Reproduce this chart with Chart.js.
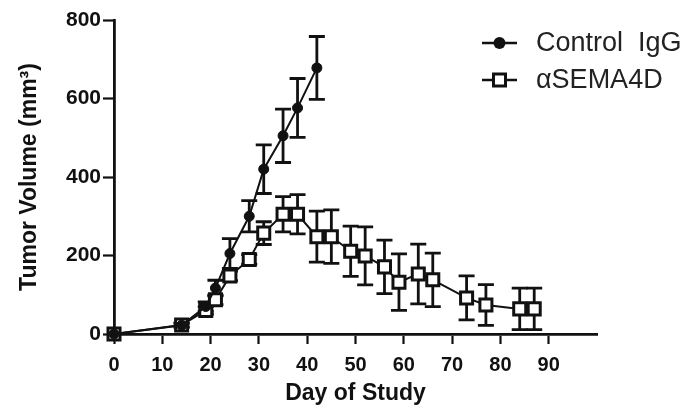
<!DOCTYPE html>
<html>
<head>
<meta charset="utf-8">
<script src="https://cdn.jsdelivr.net/npm/chart.js@4.4.1/dist/chart.umd.min.js"></script>
<style>
  html, body { margin: 0; padding: 0; background: #fff; }
  #wrap { width: 699px; height: 413px; }
</style>
</head>
<body>
<div id="wrap"><canvas id="tumorchart" width="699" height="413"></canvas></div>
<script>
// days and mean tumour volume (mm3) with error bars
const controlDays = [0, 14, 19, 21, 24, 28, 31, 35, 38, 42];
const controlVolume = [0, 22, 70, 117, 205, 300, 420, 505, 576, 678];
const controlError = [0, 5, 12, 20, 38, 40, 62, 68, 75, 80];

const semaDays = [0, 14, 19, 21, 24, 28, 31, 35, 38, 42, 45, 49, 52, 56, 59, 63, 66, 73, 77, 84, 87];
const semaVolume = [0, 23, 60, 87, 148, 190, 257, 305, 305, 248, 248, 211, 199, 171, 132, 153, 138, 92, 74, 64, 64];
const semaError = [0, 5, 10, 12, 12, 12, 29, 45, 50, 65, 68, 64, 74, 68, 72, 76, 68, 56, 52, 53, 53];

const xTicks = [0, 10, 20, 30, 40, 50, 60, 70, 80, 90];
const yTicks = [0, 200, 400, 600, 800];

const seriesNames = ['Control  IgG', '\u03B1SEMA4D'];

const FONT = '"Liberation Sans", Arial, Helvetica, sans-serif';
const INK = '#111';

function toPoints(days, vals) {
  return days.map((d, i) => ({ x: d, y: vals[i] }));
}

// vertical error bars with caps, drawn under the markers
const errorBars = {
  id: 'errorBars',
  beforeDatasetsDraw(chart) {
    const ctx = chart.ctx;
    const yScale = chart.scales.y;
    chart.data.datasets.forEach((ds, di) => {
      const meta = chart.getDatasetMeta(di);
      ctx.save();
      ctx.strokeStyle = INK;
      ctx.lineWidth = 2.8;
      meta.data.forEach((pt, i) => {
        const e = ds.errors[i];
        if (!e) return;
        const v = ds.data[i].y;
        const top = yScale.getPixelForValue(v + e);
        const bot = yScale.getPixelForValue(Math.max(v - e, 0));
        const half = ds.capHalf;
        ctx.beginPath();
        ctx.moveTo(pt.x, top);
        ctx.lineTo(pt.x, bot);
        ctx.moveTo(pt.x - half, top);
        ctx.lineTo(pt.x + half, top);
        ctx.moveTo(pt.x - half, bot);
        ctx.lineTo(pt.x + half, bot);
        ctx.stroke();
      });
      ctx.restore();
    });
  }
};

// legend placed inside the plot, top right
const floatLegend = {
  id: 'floatLegend',
  afterDraw(chart) {
    const ctx = chart.ctx;
    const rows = [43, 80];
    ctx.save();
    chart.data.datasets.forEach((ds, i) => {
      const y = rows[i];
      ctx.strokeStyle = INK;
      ctx.lineWidth = 2.6;
      ctx.beginPath();
      ctx.moveTo(482, y);
      ctx.lineTo(517, y);
      ctx.stroke();
      if (ds.pointStyle === 'rect') {
        ctx.fillStyle = '#fff';
        ctx.lineWidth = 3;
        ctx.fillRect(493.5, y - 6, 12, 12);
        ctx.strokeRect(493.5, y - 6, 12, 12);
      } else {
        ctx.fillStyle = INK;
        ctx.beginPath();
        ctx.arc(499.5, y, 6, 0, Math.PI * 2);
        ctx.fill();
      }
      ctx.fillStyle = '#222';
      ctx.font = '27px ' + FONT;
      ctx.textBaseline = 'middle';
      ctx.textAlign = 'left';
      ctx.fillText(seriesNames[i], 536, y + 1);
    });
    ctx.restore();
  }
};

new Chart(document.getElementById('tumorchart'), {
  type: 'line',
  plugins: [errorBars, floatLegend],
  data: {
    datasets: [
      {
        label: seriesNames[0],
        data: toPoints(controlDays, controlVolume),
        errors: controlError,
        capHalf: 8,
        clip: false,
        borderColor: INK,
        borderWidth: 2,
        pointStyle: 'circle',
        pointRadius: 5,
        pointBackgroundColor: INK,
        pointBorderColor: INK,
        pointBorderWidth: 1,
        tension: 0,
      },
      {
        label: seriesNames[1],
        data: toPoints(semaDays, semaVolume),
        errors: semaError,
        capHalf: 8,
        clip: false,
        borderColor: INK,
        borderWidth: 2,
        pointStyle: 'rect',
        pointRadius: 8.5,
        pointBackgroundColor: '#fff',
        pointBorderColor: INK,
        pointBorderWidth: 3,
        tension: 0,
      }
    ]
  },
  options: {
    responsive: false,
    animation: false,
    events: [],
    layout: { padding: { top: 20, right: 102, bottom: 0, left: 0 } },
    plugins: {
      legend: { display: false },
      title: { display: false },
      tooltip: { enabled: false },
    },
    scales: {
      x: {
        type: 'linear',
        min: 0,
        max: 100,
        afterBuildTicks: (scale) => { scale.ticks = xTicks.map(v => ({ value: v })); },
        ticks: {
          color: INK,
          font: { family: FONT, size: 20, weight: 'bold' },
          padding: 9,
        },
        grid: { drawOnChartArea: false, drawTicks: true, tickLength: 10, tickColor: INK, tickWidth: 2.2 },
        border: { display: true, color: INK, width: 2.8 },
        title: {
          display: true,
          text: 'Day of Study',
          color: INK,
          font: { family: FONT, size: 23, weight: 'bold' },
          padding: { top: 4, bottom: 6 },
        },
        afterFit: (scale) => { scale.height = 79; },
      },
      y: {
        type: 'linear',
        min: 0,
        max: 800,
        afterBuildTicks: (scale) => { scale.ticks = yTicks.map(v => ({ value: v })); },
        ticks: {
          color: INK,
          font: { family: FONT, size: 21, weight: 'bold' },
          padding: 2,
        },
        grid: { drawOnChartArea: false, drawTicks: true, tickLength: 11, tickColor: INK, tickWidth: 2.2 },
        border: { display: true, color: INK, width: 2.8 },
        title: {
          display: true,
          text: 'Tumor Volume (mm\u00B3)',
          color: INK,
          font: { family: FONT, size: 23, weight: 'bold' },
          padding: { top: 16, bottom: 4 },
        },
        afterFit: (scale) => { scale.width = 114; },
      }
    }
  }
});
</script>
</body>
</html>
